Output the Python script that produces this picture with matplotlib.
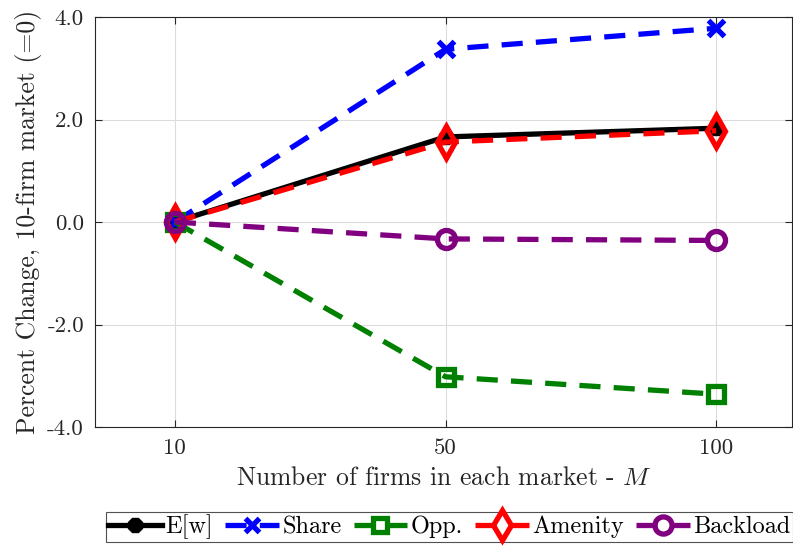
import matplotlib
matplotlib.use("Agg")
import matplotlib.pyplot as plt
import numpy as np

# Data
firms = ["10", "50", "100"]
ew = [0.0, 1.66, 1.83]
share = [0.0, 3.37, 3.78]
opp = [0.0, -3.02, -3.36]
amenity = [0.0, 1.56, 1.78]
backload = [0.0, -0.33, -0.36]
yticks = [-4.0, -2.0, 0.0, 2.0, 4.0]

plt.rcParams["font.family"] = ["cmr10", "DejaVu Serif"]
plt.rcParams["mathtext.fontset"] = "cm"
plt.rcParams["axes.unicode_minus"] = False
plt.rcParams["axes.formatter.use_mathtext"] = True

x = np.arange(1, len(firms) + 1)

fig = plt.figure(figsize=(7.93, 5.47), dpi=100)
ax = fig.add_axes([95 / 793, 1 - 427 / 547, (792 - 95) / 793, (427 - 17) / 547])

lw = 3.8
dash = (4, 2.5)
ax.plot(x, ew, color="black", lw=lw, marker="8", ms=11, mfc="black",
        mec="black", label="E[w]")
ax.plot(x, share, color="blue", lw=lw, dashes=dash, marker="x", ms=11,
        mew=3.8, label="Share")
ax.plot(x, opp, color=(0, 0.5, 0), lw=lw, dashes=dash, marker="s", ms=11,
        mfc="none", mew=3.8, label="Opp.")
ax.plot(x, amenity, color="red", lw=lw, dashes=dash, marker="d", ms=16,
        mfc="none", mew=3.8, label="Amenity")
ax.plot(x, backload, color=(0.5, 0, 0.5), lw=lw, dashes=dash, marker="o",
        ms=13, mfc="none", mew=3.8, label="Backload")

ax.set_xlim(0.705, 3.28)
ax.set_ylim(-4, 4)
ax.set_xticks(x)
ax.set_xticklabels(firms)
ax.set_yticks(yticks)
ax.set_yticklabels(["%.1f" % v for v in yticks])
ax.tick_params(direction="in", top=True, right=True, labelsize=16.5,
               color="#262626", labelcolor="#262626", length=5, pad=8)
ax.grid(True, color="#dcdcdc", lw=0.8)
for s in ax.spines.values():
    s.set_color("#262626")
    s.set_linewidth(0.8)

ax.set_xlabel("Number of firms in each market - $M$", fontsize=18.5,
              color="#262626", labelpad=6)
ax.set_ylabel("Percent Change, 10-firm market (=0)", fontsize=18.5,
              color="#262626", labelpad=4)

leg = fig.legend(loc="lower right", bbox_to_anchor=(1.0, 0.01), ncol=5,
                 fontsize=17.5, frameon=True, fancybox=False, handlelength=2.2,
                 handletextpad=0.15, columnspacing=0.5, borderpad=0.1,
                 borderaxespad=0.0, markerscale=0.95)
leg.get_frame().set_edgecolor("#262626")
leg.get_frame().set_linewidth(0.8)

fig.savefig("out.png", dpi=100)
